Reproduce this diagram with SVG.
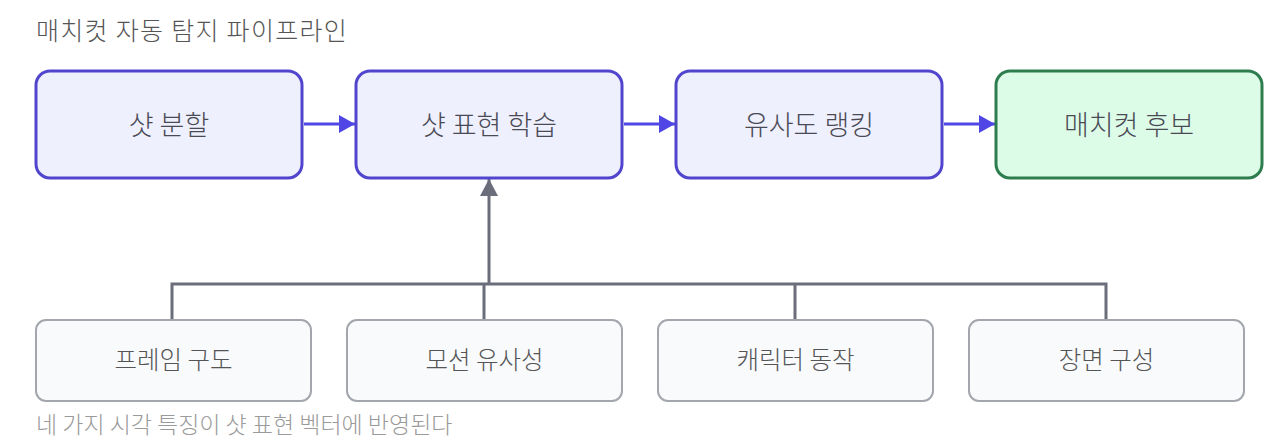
<svg xmlns="http://www.w3.org/2000/svg" width="1280" height="444" viewBox="0 0 1280 444">
<defs>
<style>
text{font-family:"Noto Sans CJK KR","Noto Sans",sans-serif;font-weight:300;}
.title{font-size:25px;fill:#555555;letter-spacing:1.3px;}
.cap{font-size:23px;fill:#9a9a9a;}
.main rect{fill:#eef0fd;stroke:#5145cd;stroke-width:3;}
.out rect{fill:#dcfce7;stroke:#2e7d4f;stroke-width:3;}
.main text,.out text{font-size:27px;fill:#4a4a55;text-anchor:middle;}
.feat rect{fill:#f8fafc;stroke:#a3a6ad;stroke-width:2;}
.feat text{font-size:24.5px;fill:#555;text-anchor:middle;}
.flow{stroke:#4f46e5;stroke-width:3;fill:none;}
.tree{stroke:#6b6e7a;stroke-width:3;fill:none;}
</style>
<marker id="ab" markerUnits="userSpaceOnUse" markerWidth="16" markerHeight="18" refX="16" refY="9" orient="auto"><path d="M0,0 L16,9 L0,18 Z" fill="#4f46e5"/></marker>
<marker id="ag" markerUnits="userSpaceOnUse" markerWidth="17" markerHeight="18" refX="17" refY="9" orient="auto"><path d="M0,0 L17,9 L0,18 Z" fill="#6b6e7a"/></marker>
</defs>
<rect width="1280" height="444" fill="#ffffff"/>
<text class="title" x="36" y="40">매치컷 자동 탐지 파이프라인</text>
<g id="connectors">
<path class="flow" d="M304,124 H355" marker-end="url(#ab)"/>
<path class="flow" d="M624,124 H675" marker-end="url(#ab)"/>
<path class="flow" d="M944,124 H995" marker-end="url(#ab)"/>
<path class="tree" d="M172,320 V284 H1106 V320 M484,284 V320 M795,284 V320"/>
<path class="tree" d="M489,284 V179" marker-end="url(#ag)"/>
</g>
<g id="n1" class="main"><rect x="36" y="71" width="266" height="107" rx="14"/><text x="169" y="135">샷 분할</text></g>
<g id="n2" class="main"><rect x="356" y="71" width="266" height="107" rx="14"/><text x="489" y="135">샷 표현 학습</text></g>
<g id="n3" class="main"><rect x="676" y="71" width="266" height="107" rx="14"/><text x="809" y="135">유사도 랭킹</text></g>
<g id="n4" class="out"><rect x="996" y="71" width="266" height="107" rx="14"/><text x="1129" y="135">매치컷 후보</text></g>
<g id="f1" class="feat"><rect x="36" y="320" width="275" height="81" rx="10"/><text x="173.5" y="369">프레임 구도</text></g>
<g id="f2" class="feat"><rect x="347" y="320" width="275" height="81" rx="10"/><text x="484.5" y="369">모션 유사성</text></g>
<g id="f3" class="feat"><rect x="658" y="320" width="275" height="81" rx="10"/><text x="795.5" y="369">캐릭터 동작</text></g>
<g id="f4" class="feat"><rect x="969" y="320" width="275" height="81" rx="10"/><text x="1106.5" y="369">장면 구성</text></g>
<text class="cap" x="36" y="433">네 가지 시각 특징이 샷 표현 벡터에 반영된다</text>
</svg>
